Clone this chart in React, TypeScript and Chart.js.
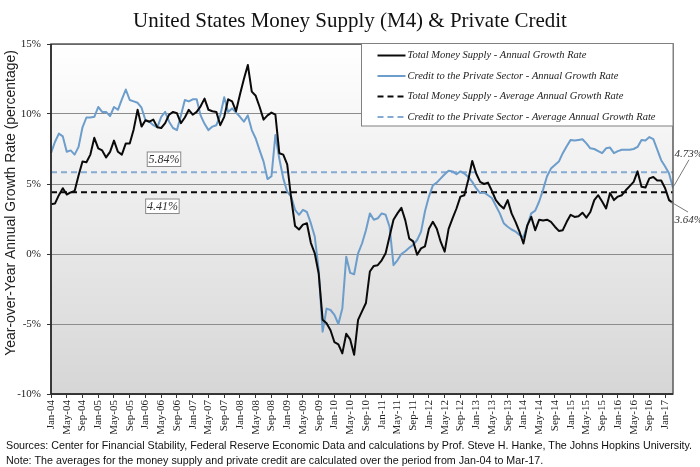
import React, { useEffect, useRef } from "react";
import { Chart, registerables } from "chart.js";

Chart.register(...registerables);

const MONTHS = ["Jan", "Feb", "Mar", "Apr", "May", "Jun", "Jul", "Aug", "Sep", "Oct", "Nov", "Dec"];
const START_YEAR = 2004;
const MONTH_COUNT = 159; // Jan-04 .. Mar-17
const CATEGORIES: string[] = Array.from({ length: MONTH_COUNT }, (_, i) => {
  const yr = (START_YEAR + Math.floor(i / 12)) % 100;
  return `${MONTHS[i % 12]}-${String(yr).padStart(2, "0")}`;
});

// Total Money Supply (M4) - annual growth rate, %
const MONEY_SUPPLY = [
  3.55, 3.6, 4.2, 4.7, 4.25, 4.4, 4.5, 5.6, 6.6, 6.55, 7.1, 8.3,
  7.55, 7.4, 6.9, 7.3, 8.1, 7.3, 7.1, 7.9, 7.9, 8.9, 10.3, 9.1,
  9.55, 9.45, 9.6, 9.05, 9.0, 9.35, 9.95, 10.15, 10.05, 9.35, 9.75, 10.3,
  9.95, 10.15, 10.55, 11.1, 10.3, 10.2, 10.15, 9.2, 9.8, 11.05, 10.9, 10.2,
  11.4, 12.5, 13.5, 11.6, 11.3, 10.5, 9.6, 9.9, 10.1, 9.95, 7.2, 7.1,
  6.4, 4.0, 2.0, 1.75, 2.1, 2.2, 0.8, 0.05, -1.4, -4.7, -4.95, -5.45,
  -6.3, -6.45, -7.1, -5.7, -6.1, -7.2, -4.7, -4.1, -3.5, -1.25, -0.85, -0.8,
  -0.45, 0.05, 1.25, 2.45, 2.9, 3.3, 2.4, 1.1, 0.9, -0.05, 0.4, 0.55,
  1.8, 2.3, 1.8, 0.86, 0.17, 1.8, 2.55, 3.25, 4.1, 4.2, 5.3, 6.65,
  5.75, 5.15, 5.0, 5.1, 4.5, 3.85, 3.5, 3.25, 3.85, 2.9, 2.3, 1.6,
  0.75, 2.05, 2.65, 1.7, 2.45, 2.4, 2.45, 2.3, 1.95, 1.65, 1.7, 2.3,
  2.8, 2.65, 2.7, 2.95, 2.6, 3.0, 3.85, 4.2, 3.75, 3.25, 4.35, 3.85,
  4.1, 4.2, 4.55, 4.85, 5.15, 5.9, 4.8, 4.75, 5.4, 5.5, 5.25, 5.25,
  4.7, 3.85, 3.64,
];

// Credit to the Private Sector - annual growth rate, %
const PRIVATE_CREDIT = [
  7.2, 8.0, 8.6, 8.4, 7.3, 7.4, 7.1, 7.65, 9.05, 9.75, 9.75, 9.8,
  10.5, 10.15, 10.15, 9.85, 10.5, 10.3, 11.05, 11.75, 11.0, 10.9, 10.8, 10.45,
  9.55, 9.45, 9.2, 9.05, 9.8, 10.15, 9.45, 9.0, 8.85, 9.9, 11.0, 10.9,
  11.05, 11.05, 9.9, 9.3, 8.85, 9.1, 9.2, 9.9, 11.2, 10.15, 10.4, 10.1,
  9.8, 9.45, 9.9, 8.85, 8.25, 7.4, 6.6, 5.35, 5.55, 8.5, 6.8, 5.4,
  4.45, 4.1, 3.15, 2.8, 3.15, 3.0, 2.2, 1.25, -1.15, -5.55, -3.9, -4.0,
  -4.35, -5.0, -3.9, -0.2, -1.35, -1.45, 0.05, 0.75, 1.7, 2.9, 2.45, 2.55,
  2.9, 2.8, 1.95, -0.8, -0.45, 0.0, 0.2, 0.45, 0.65, 1.0, 1.6, 3.05,
  4.1, 4.9, 5.1, 5.4, 5.7, 5.95, 5.9, 5.7, 5.9, 5.75, 5.5, 5.15,
  4.7, 4.35, 4.4, 4.2, 4.0, 3.45, 2.9, 2.2, 1.95, 1.75, 1.6, 1.35,
  1.2, 2.05, 2.9, 3.1, 3.75, 4.6, 5.55, 6.1, 6.35, 6.6, 7.2, 7.7,
  8.15, 8.1, 8.15, 8.2, 7.9, 7.55, 7.5, 7.35, 7.2, 7.55, 7.6, 7.2,
  7.35, 7.45, 7.45, 7.45, 7.5, 7.65, 8.15, 8.1, 8.35, 8.2, 7.45, 6.7,
  6.25, 5.75, 4.73,
];

const AVG_MONEY = 4.41;
const AVG_CREDIT = 5.84;

const Y_MIN = -10;
const Y_MAX = 15;
const Y_STEP = 5;
const X_LABEL_EVERY = 4;

const TITLE = "United States Money Supply (M4) & Private Credit";
const Y_TITLE = "Year-over-Year Annual Growth Rate (percentage)";
const SERIES_LABELS = [
  "Total Money Supply - Annual Growth Rate",
  "Credit to the Private Sector - Annual Growth Rate",
  "Total Money Supply - Average Annual Growth Rate",
  "Credit to the Private Sector - Average Annual Growth Rate",
];
const SOURCES =
  "Sources: Center for Financial Stability, Federal Reserve Economic Data and calculations by Prof. Steve H. Hanke, The Johns Hopkins University.";
const NOTE =
  "Note: The averages for the money supply and private credit are calculated over the period from Jan-04 to Mar-17.";

const SERIF = "'Liberation Serif', 'DejaVu Serif', serif";
const SANS = "'Liberation Sans', Arial, sans-serif";
const BLACK = "#0a0a0a";
const BLUE = "#6d9dcb";
const BLUE_DASH = "#86abd2";
const DASH = [6, 4];

const fmtPct = (v: number) => `${v.toFixed(2)}%`;

function fitSize(ctx: CanvasRenderingContext2D, text: string, font: (s: number) => string, width: number) {
  ctx.font = font(20);
  const w = ctx.measureText(text).width;
  return (20 * width) / w;
}

const overlayPlugin = {
  id: "overlay",
  beforeDraw(chart: any) {
    const { ctx, chartArea: a } = chart;
    ctx.save();
    ctx.fillStyle = "#ffffff";
    ctx.fillRect(0, 0, chart.width, chart.height);
    const g = ctx.createLinearGradient(0, a.top, 0, a.bottom);
    g.addColorStop(0, "#ffffff");
    g.addColorStop(1, "#d6d6d6");
    ctx.fillStyle = g;
    ctx.fillRect(a.left, a.top, a.right - a.left, a.bottom - a.top);
    ctx.restore();
  },
  afterDraw(chart: any) {
    const { ctx, chartArea: a } = chart;
    const xs = chart.scales.x;
    const ys = chart.scales.y;
    ctx.save();

    // plot frame
    ctx.lineWidth = 1.5;
    ctx.strokeStyle = "#5a5a5a";
    ctx.strokeRect(a.left, a.top, a.right - a.left, a.bottom - a.top);
    ctx.strokeStyle = "#222";
    ctx.beginPath();
    ctx.moveTo(a.left, a.top);
    ctx.lineTo(a.left, a.bottom);
    ctx.lineTo(a.right, a.bottom);
    ctx.stroke();

    // legend
    const lx = a.left + 310.5;
    const ly = a.top - 0.5;
    const lw = a.right - lx;
    const lh = 82.5;
    ctx.fillStyle = "#ffffff";
    ctx.fillRect(lx, ly, lw, lh);
    ctx.lineWidth = 1;
    ctx.strokeStyle = "#808080";
    ctx.strokeRect(lx, ly, lw, lh);
    const styles = [
      { c: BLACK, d: [] as number[] },
      { c: BLUE, d: [] as number[] },
      { c: BLACK, d: DASH },
      { c: BLUE_DASH, d: DASH },
    ];
    const lFont = (s: number) => `italic ${s}px ${SERIF}`;
    const lSize = fitSize(ctx, SERIES_LABELS[3], lFont, 248);
    ctx.font = lFont(lSize);
    ctx.textBaseline = "middle";
    ctx.textAlign = "left";
    SERIES_LABELS.forEach((label, k) => {
      const ry = ly + 12 + k * 20.5;
      ctx.beginPath();
      ctx.setLineDash(styles[k].d);
      ctx.strokeStyle = styles[k].c;
      ctx.lineWidth = 2;
      ctx.moveTo(lx + 16, ry);
      ctx.lineTo(lx + 44, ry);
      ctx.stroke();
      ctx.setLineDash([]);
      ctx.fillStyle = "#222";
      ctx.fillText(label, lx + 46, ry);
    });

    // average value boxes
    const drawBox = (text: string, cx: number, cy: number) => {
      ctx.font = `italic 12px ${SERIF}`;
      const w = 33.5;
      const h = 14.5;
      ctx.fillStyle = "#ffffff";
      ctx.fillRect(cx - w / 2, cy - h / 2, w, h);
      ctx.strokeStyle = "#8a8a8a";
      ctx.lineWidth = 1;
      ctx.strokeRect(cx - w / 2, cy - h / 2, w, h);
      ctx.fillStyle = "#333";
      ctx.textAlign = "center";
      ctx.textBaseline = "middle";
      ctx.fillText(text, cx, cy + 0.5);
    };
    drawBox(fmtPct(AVG_CREDIT), xs.getPixelForValue(28.7), ys.getPixelForValue(AVG_CREDIT) - 13);
    drawBox(fmtPct(AVG_MONEY), xs.getPixelForValue(28.3), ys.getPixelForValue(AVG_MONEY) + 14);

    // end-value callouts
    const last = MONTH_COUNT - 1;
    const px = xs.getPixelForValue(last);
    const pyC = ys.getPixelForValue(PRIVATE_CREDIT[last]);
    const pyM = ys.getPixelForValue(MONEY_SUPPLY[last]);
    ctx.strokeStyle = "#7a7a7a";
    ctx.lineWidth = 1;
    ctx.beginPath();
    ctx.moveTo(px + 1, pyC - 2);
    ctx.lineTo(px + 16, pyC - 28);
    ctx.moveTo(px - 2, pyM - 1);
    ctx.lineTo(px + 15, pyM + 9);
    ctx.stroke();
    ctx.font = `italic 11px ${SERIF}`;
    ctx.fillStyle = "#333";
    ctx.textAlign = "left";
    ctx.textBaseline = "middle";
    ctx.fillText(fmtPct(PRIVATE_CREDIT[last]), px + 1.5, pyC - 34);
    ctx.fillText(fmtPct(MONEY_SUPPLY[last]), px + 1.5, pyM + 17);

    // title
    const tFont = (s: number) => `${s}px ${SERIF}`;
    const tSize = fitSize(ctx, TITLE, tFont, 434);
    ctx.font = tFont(tSize);
    ctx.fillStyle = "#111";
    ctx.textAlign = "center";
    ctx.textBaseline = "alphabetic";
    ctx.fillText(TITLE, 350, 27);

    // y axis title
    const yFont = (s: number) => `${s}px ${SANS}`;
    const ySize = fitSize(ctx, Y_TITLE, yFont, 306);
    ctx.save();
    ctx.translate(11, 203);
    ctx.rotate(-Math.PI / 2);
    ctx.font = yFont(ySize);
    ctx.fillStyle = "#222";
    ctx.textAlign = "center";
    ctx.textBaseline = "middle";
    ctx.fillText(Y_TITLE, 0, 0);
    ctx.restore();

    // footer
    const fFont = (s: number) => `${s}px ${SANS}`;
    const fSize = fitSize(ctx, SOURCES, fFont, 687);
    ctx.font = fFont(fSize);
    ctx.fillStyle = "#111";
    ctx.textAlign = "left";
    ctx.textBaseline = "middle";
    ctx.fillText(SOURCES, 6, 446);
    ctx.fillText(NOTE, 6, 461);

    ctx.restore();
  },
};

export default function App() {
  const ref = useRef<HTMLCanvasElement | null>(null);

  useEffect(() => {
    if (!ref.current) return;
    const chart = new Chart(ref.current, {
      type: "line",
      data: {
        labels: CATEGORIES,
        datasets: [
          {
            label: SERIES_LABELS[0],
            data: MONEY_SUPPLY,
            borderColor: BLACK,
            borderWidth: 2,
            pointRadius: 0,
            tension: 0,
            borderJoinStyle: "round",
            order: 0,
          },
          {
            label: SERIES_LABELS[1],
            data: PRIVATE_CREDIT,
            borderColor: BLUE,
            borderWidth: 2,
            pointRadius: 0,
            tension: 0,
            borderJoinStyle: "round",
            order: 1,
          },
          {
            label: SERIES_LABELS[2],
            data: CATEGORIES.map(() => AVG_MONEY),
            borderColor: BLACK,
            borderWidth: 2,
            borderDash: DASH,
            pointRadius: 0,
            order: 2,
          },
          {
            label: SERIES_LABELS[3],
            data: CATEGORIES.map(() => AVG_CREDIT),
            borderColor: BLUE_DASH,
            borderWidth: 2,
            borderDash: DASH,
            pointRadius: 0,
            order: 3,
          },
        ],
      },
      options: {
        responsive: false,
        animation: false,
        layout: { padding: { top: 44, right: 27, bottom: 33, left: 0 } },
        plugins: {
          legend: { display: false },
          title: { display: false },
          tooltip: { enabled: false },
        },
        scales: {
          x: {
            type: "category",
            afterBuildTicks: (s: any) => {
              s.ticks = s.ticks.filter((t: any) => t.value % X_LABEL_EVERY === 0);
            },
            afterFit: (s: any) => {
              s.height = 40;
            },
            grid: {
              drawOnChartArea: false,
              drawTicks: true,
              tickLength: 4,
              color: "#333",
              tickColor: "#333",
            },
            border: { display: false },
            ticks: {
              autoSkip: false,
              maxRotation: 90,
              minRotation: 90,
              padding: 2,
              color: "#222",
              font: { family: SERIF, size: 11 },
              callback: function (this: any, v: any) {
                return this.getLabelForValue(v);
              },
            },
          },
          y: {
            min: Y_MIN,
            max: Y_MAX,
            afterFit: (s: any) => {
              s.width = 51;
            },
            grid: {
              color: "#8c8c8c",
              lineWidth: 1,
              drawTicks: true,
              tickLength: 4,
              tickColor: "#333",
            },
            border: { display: false },
            ticks: {
              stepSize: Y_STEP,
              padding: 6,
              color: "#222",
              font: { family: SERIF, size: 11 },
              callback: (v: any) => `${v}%`,
            },
          },
        },
      },
      plugins: [overlayPlugin],
    } as any);
    return () => chart.destroy();
  }, []);

  return (
    <div style={{ position: "absolute", left: 0, top: 0, width: 700, height: 467 }}>
      <canvas ref={ref} width={700} height={467} style={{ width: 700, height: 467, display: "block" }} />
    </div>
  );
}
